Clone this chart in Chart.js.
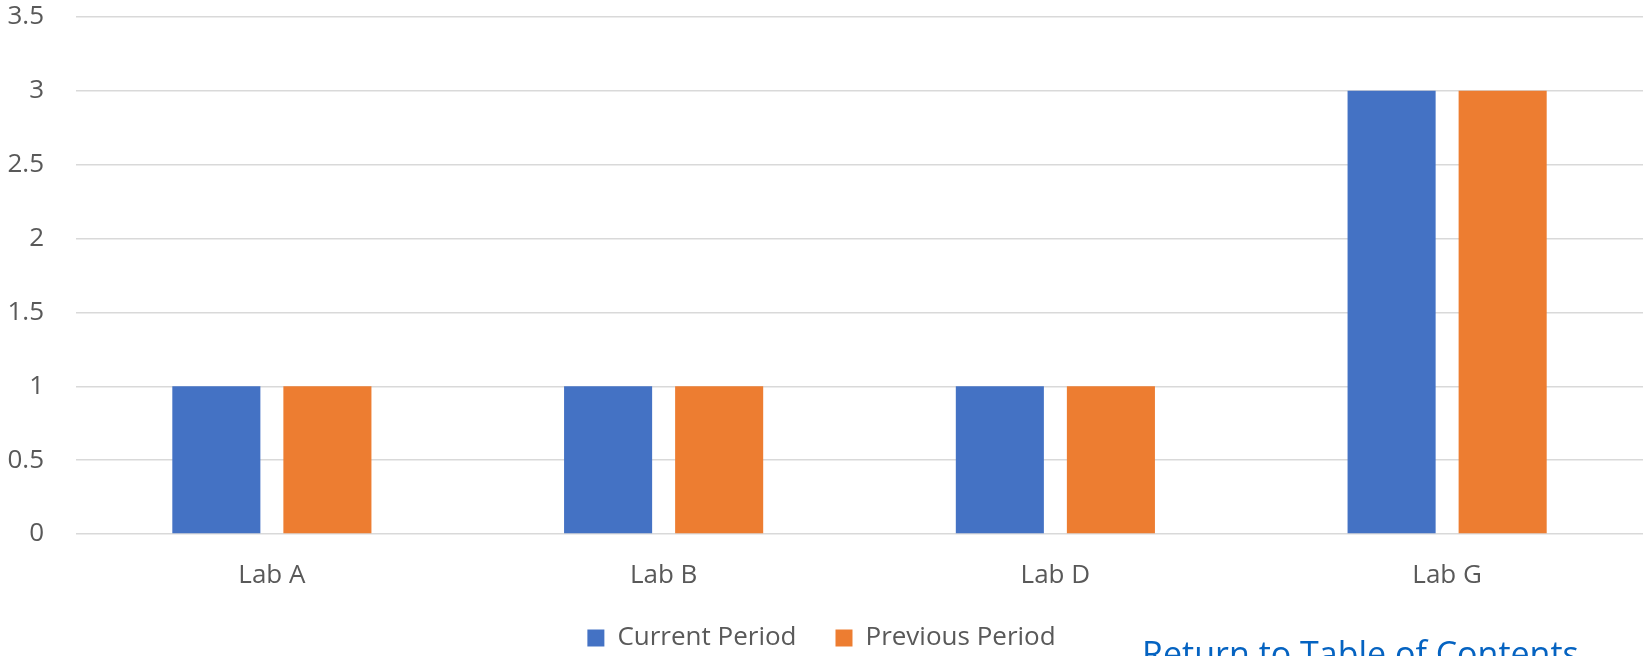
<!DOCTYPE html>
<html>
<head>
<meta charset="utf-8">
<script src="https://cdn.jsdelivr.net/npm/chart.js@4/dist/chart.umd.min.js"></script>
<style>
  html, body { margin: 0; padding: 0; background: #fff; overflow: hidden; }
  #wrap { position: relative; width: 1644px; height: 656px; overflow: hidden; }
  #enlace {
    position: absolute; left: 1142px; top: 636px;
    font-family: "Open Sans", sans-serif; font-size: 34px; line-height: 1;
    color: #0563C1; white-space: nowrap;
  }
</style>
</head>
<body>
<div id="wrap">
  <canvas id="graficaLabs"></canvas>
  <div id="enlace">Return to Table of Contents</div>
</div>
<script>
const categorias = ['Lab A', 'Lab B', 'Lab D', 'Lab G'];
const periodoActual = [1, 1, 1, 3];
const periodoAnterior = [1, 1, 1, 3];
const etiquetasY = [0, 0.5, 1, 1.5, 2, 2.5, 3, 3.5];

document.addEventListener('DOMContentLoaded', function() {

    Chart.defaults.font.family = '"Open Sans", sans-serif';
    Chart.defaults.color = '#595959';

    const contexto = document.getElementById('graficaLabs');
    contexto.width = 1644;
    contexto.height = 656;

    new Chart(contexto, {
        type: 'bar',
        data: {
            labels: categorias,
            datasets: [{
                label: 'Current Period',
                data: periodoActual,
                backgroundColor: '#4472C4',
                categoryPercentage: 0.567,
                barPercentage: 0.793
            },
            {
                label: 'Previous Period',
                data: periodoAnterior,
                backgroundColor: '#ED7D31',
                categoryPercentage: 0.567,
                barPercentage: 0.793
            }]
        },
        options: {
            responsive: false,
            animation: false,
            devicePixelRatio: 1,
            layout: {
                padding: { top: 17, left: 0, right: 1, bottom: 0 }
            },
            plugins: {
                legend: {
                    position: 'bottom',
                    maxHeight: 70,
                    labels: {
                        boxWidth: 17,
                        boxHeight: 17,
                        padding: 39,
                        font: { size: 26 }
                    }
                },
                tooltip: { enabled: false }
            },
            scales: {
                y: {
                    min: 0,
                    max: 3.5,
                    border: { display: false },
                    grid: {
                        color: '#D9D9D9',
                        lineWidth: 1.5,
                        drawTicks: false
                    },
                    afterBuildTicks: function(eje) {
                        eje.ticks = etiquetasY.map(v => ({ value: v }));
                    },
                    afterFit: function(eje) {
                        eje.width = 76;
                        eje.paddingTop = 0;
                        eje.paddingBottom = 0;
                    },
                    ticks: {
                        padding: 32,
                        font: { size: 26 },
                        callback: function(valor) {
                            return String(valor);
                        }
                    }
                },
                x: {
                    border: { display: false },
                    grid: { display: false, drawTicks: false },
                    afterFit: function(eje) {
                        eje.height = 52;
                    },
                    ticks: {
                        padding: 26,
                        font: { size: 26 }
                    }
                }
            }
        }
    });
});
</script>
</body>
</html>
